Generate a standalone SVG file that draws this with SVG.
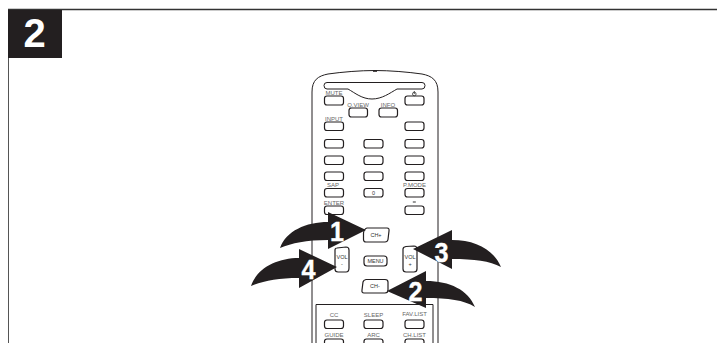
<svg xmlns="http://www.w3.org/2000/svg" width="717" height="343" viewBox="0 0 717 343">
<style>
.b{fill:#fff;stroke:#231f20;stroke-width:1.2}
.t{font-family:"Liberation Sans",Arial,sans-serif;font-size:6px;fill:#666;text-anchor:middle}
.d{fill:#333;font-size:5.5px}
.n{font-family:"Liberation Sans",Arial,sans-serif;font-weight:bold;font-size:28px;fill:#fff;stroke:#fff;stroke-width:.4;text-anchor:middle}
.a{fill:#231f20}
.l{fill:none;stroke:#231f20;stroke-width:1}
</style>
<rect width="717" height="343" fill="#fff"/>
<g id="header">
<path d="M8 9.500H717" stroke="#333" stroke-width="1.500" fill="none"/>
<path d="M8.500 58V343" stroke="#555" stroke-width="1" fill="none"/>
<rect x="8" y="10" width="54" height="48" fill="#231f20"/>
<text x="34.500" y="47" font-family="Liberation Sans,Arial,sans-serif" font-weight="bold" font-size="40" fill="#fff" text-anchor="middle">2</text>
</g>
<g id="remote">
<path class="l" d="M312 343V92C312 80 318 76 328 74C342 72 360 70.500 375 70.500C390 70.500 408 72 422 74C432 76 438 80 438 92V343"/>
<rect x="373" y="70" width="4" height="1.800" fill="#231f20"/>
<path class="l" d="M327 82.500H422Q425 82.500 425 85.500Q425 89 422 89H397C390 93 382 99 372 99C362 99 355 93 348 89H327Q324 89 324 85.500Q324 82.500 327 82.500Z"/>
<path class="l" d="M316 343V304.500H433V343"/>
</g>
<g id="buttons">
<rect class="b" x="324.500" y="96" width="19" height="9" rx="2.500"/>
<rect class="b" x="405" y="96" width="19" height="9" rx="2.500"/>
<rect class="b" x="349" y="108" width="18.500" height="9" rx="2.500"/>
<rect class="b" x="379" y="108" width="18.500" height="9" rx="2.500"/>
<rect class="b" x="324.500" y="122" width="19" height="8.500" rx="2.500"/>
<rect class="b" x="405" y="122" width="19" height="8.500" rx="2.500"/>
<rect class="b" x="324.500" y="139.500" width="19" height="8.500" rx="2.500"/>
<rect class="b" x="364" y="139.500" width="19" height="8.500" rx="2.500"/>
<rect class="b" x="405" y="139.500" width="19" height="8.500" rx="2.500"/>
<rect class="b" x="324.500" y="156" width="19" height="8.500" rx="2.500"/>
<rect class="b" x="364" y="156" width="19" height="8.500" rx="2.500"/>
<rect class="b" x="405" y="156" width="19" height="8.500" rx="2.500"/>
<rect class="b" x="324.500" y="172" width="19" height="8.500" rx="2.500"/>
<rect class="b" x="364" y="172" width="19" height="8.500" rx="2.500"/>
<rect class="b" x="405" y="172" width="19" height="8.500" rx="2.500"/>
<rect class="b" x="324.500" y="188.500" width="19" height="8.500" rx="2.500"/>
<rect class="b" x="364" y="188.500" width="19" height="8.500" rx="2.500"/>
<rect class="b" x="405" y="188.500" width="19" height="8.500" rx="2.500"/>
<rect class="b" x="324.500" y="206" width="19" height="8.500" rx="2.500"/>
<rect class="b" x="405" y="206" width="19" height="8.500" rx="2.500"/>
<path class="b" d="M367 228H387Q389.500 228 389 231L388 239.500Q387.500 242 385 242H366Q363.500 242 363.500 239.500V233Q364 229 367 228Z"/>
<rect class="b" x="364" y="256" width="23" height="10" rx="3"/>
<path class="b" d="M366 279.500H385Q388 279.500 388 282V290Q388 293 385 293H364Q361.500 293 362 290L363 282Q363.500 280 366 279.500Z"/>
<path class="b" d="M337 248L346 247Q349 247 349 250V268Q349 272 346 272H338Q335 272 335 269V250Q335 248 337 248Z"/>
<path class="b" d="M406 246.500L414 246Q417 246 417 249V269Q417 272 414 272H406Q403 272 403 269V249Q403 247 406 246.500Z"/>
<rect class="b" x="324.500" y="320" width="19" height="8.500" rx="2.500"/>
<rect class="b" x="364" y="320" width="19" height="8.500" rx="2.500"/>
<rect class="b" x="405" y="320" width="19" height="8.500" rx="2.500"/>
<rect class="b" x="324.500" y="339" width="19" height="8.500" rx="2.500"/>
<rect class="b" x="364" y="339" width="19" height="8.500" rx="2.500"/>
<rect class="b" x="405" y="339" width="19" height="8.500" rx="2.500"/>
<g fill="none" stroke="#333" stroke-width=".8"><circle cx="414.300" cy="94" r="1.800"/><path d="M414.300 91V94"/></g>
<rect x="412.800" y="201.500" width="3" height="1" fill="#333"/>
</g>
<g id="labels">
<text class="t" x="334" y="95">MUTE</text>
<text class="t" x="358" y="106.500">Q.VIEW</text>
<text class="t" x="388" y="106.500">INFO</text>
<text class="t" x="334" y="120.500">INPUT</text>
<text class="t" x="333" y="186.500">SAP</text>
<text class="t" x="414.500" y="186.500">P.MODE</text>
<text class="t d" x="373.500" y="194.700">0</text>
<text class="t" x="334" y="205">ENTER</text>
<text class="t d" x="376" y="237">CH+</text>
<text class="t d" x="375.500" y="263">MENU</text>
<text class="t d" x="375" y="288">CH-</text>
<text class="t d" x="342" y="259">VOL</text>
<text class="t d" x="342" y="266">-</text>
<text class="t d" x="410" y="259">VOL</text>
<text class="t d" x="410" y="266">+</text>
<text class="t" x="334" y="317">CC</text>
<text class="t" x="373.500" y="317">SLEEP</text>
<text class="t" x="414.500" y="316">FAV.LIST</text>
<text class="t" x="334" y="337">GUIDE</text>
<text class="t" x="373.500" y="337">ARC</text>
<text class="t" x="414.500" y="337">CH.LIST</text>
</g>
<g id="connectors">
<path class="a" d="M366 230L328 212V222C306 222 286 231 280 248C292 243 306 240 328 240V249Z"/>
<path class="a" d="M337 267L299 249V258C277 258 257 268 251 286C263 281 278 278 299 278V288Z"/>
<path class="a" d="M413 249L452 230V240C476 240 494 250 501 267C490 261 474 259 452 259V269Z"/>
<path class="a" d="M387 291L426 271V281C450 281 468 290 475 307C464 300 448 298 426 298V308Z"/>
</g>
<g id="numbers">
<text class="n" x="337" y="240.500" textLength="14" lengthAdjust="spacingAndGlyphs">1</text>
<text class="n" x="308.500" y="278.500" textLength="14" lengthAdjust="spacingAndGlyphs">4</text>
<text class="n" x="441.500" y="261.500" textLength="14" lengthAdjust="spacingAndGlyphs">3</text>
<text class="n" x="415.500" y="300.500" textLength="14" lengthAdjust="spacingAndGlyphs">2</text>
</g>
</svg>
